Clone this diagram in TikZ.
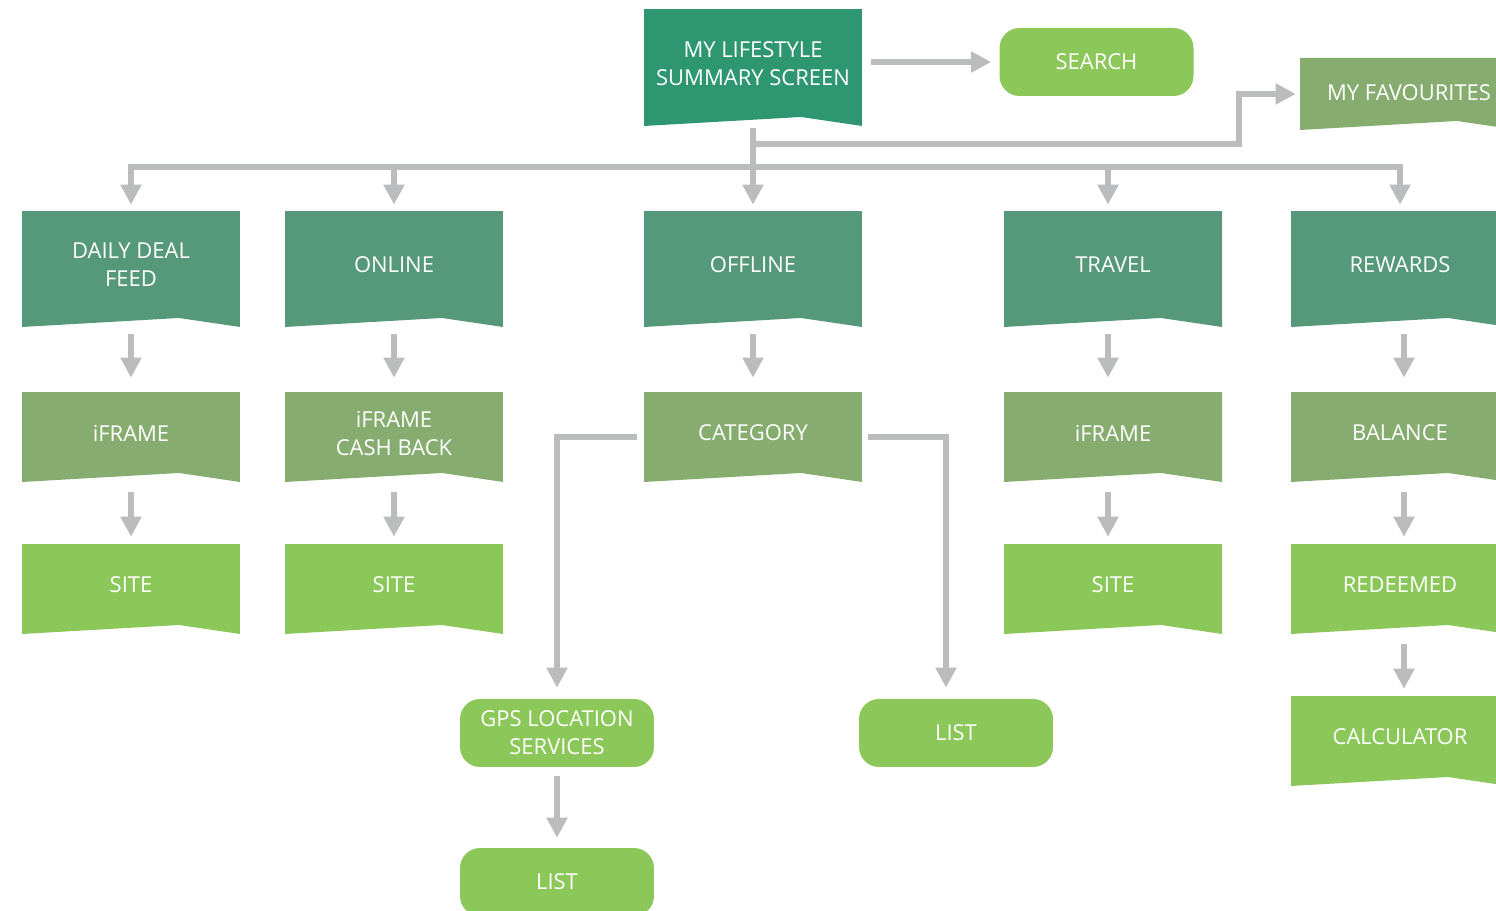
\documentclass[tikz,border=0pt]{standalone}
\usepackage{fontspec}
\setmainfont{Open Sans}
\usetikzlibrary{arrows.meta, calc}
\definecolor{cTop}{RGB}{46,150,112}
\definecolor{cMid}{RGB}{85,152,122}
\definecolor{cOlive}{RGB}{134,173,111}
\definecolor{cLight}{RGB}{140,199,90}
\definecolor{cArrow}{RGB}{187,188,190}
\tikzset{
  banner/.style={
    rectangle,
    text=white,
    align=center,
    text depth=0.16cm,
    minimum width=4.36cm,
    font=\fontsize{12.5pt}{15.9pt}\selectfont,
    path picture={
      \fill[#1] (path picture bounding box.north west)
        -- (path picture bounding box.north east)
        -- (path picture bounding box.south east)
        -- ($(path picture bounding box.south west)!0.72!(path picture bounding box.south east)+(0,0.18cm)$)
        -- (path picture bounding box.south west) -- cycle;
    }
  },
  pill/.style={
    rectangle,
    rounded corners=0.4cm,
    fill=cLight,
    text=white,
    align=center,
    minimum width=3.88cm,
    minimum height=1.36cm,
    font=\fontsize{12.5pt}{15.9pt}\selectfont
  },
  tall/.style={minimum height=2.32cm},
  short/.style={minimum height=1.8cm}
}
\tikzstyle{arrow} = [draw=cArrow, line width=0.13cm, -{Triangle[width=0.4cm, length=0.4cm]}]

\begin{document}
\begin{tikzpicture}[x=0.02cm, y=-0.02cm]
    \useasboundingbox (0,0) rectangle (1496,911);
    \clip (0,0) rectangle (1496,911);
    % top row
    \node[banner=cTop, minimum height=2.34cm] (title) at (753, 67.5) {MY LIFESTYLE\\SUMMARY SCREEN};
    \node[pill] (search) at (1096.5, 62) {SEARCH};
    \node[banner=cOlive, minimum height=1.44cm, text depth=0.04cm] (fav) at (1409, 94) {MY FAVOURITES};
    % sections
    \node[banner=cMid, tall] (daily) at (131, 269) {DAILY DEAL\\FEED};
    \node[banner=cMid, tall] (online) at (394, 269) {ONLINE};
    \node[banner=cMid, tall] (offline) at (753, 269) {OFFLINE};
    \node[banner=cMid, tall] (travel) at (1113, 269) {TRAVEL};
    \node[banner=cMid, tall] (rewards) at (1400, 269) {REWARDS};
    % second level
    \node[banner=cOlive, short] (iframeA) at (131, 437) {iFRAME};
    \node[banner=cOlive, short] (cashback) at (394, 437) {iFRAME\\CASH BACK};
    \node[banner=cOlive, short] (category) at (753, 437) {CATEGORY};
    \node[banner=cOlive, short] (iframeB) at (1113, 437) {iFRAME};
    \node[banner=cOlive, short] (balance) at (1400, 437) {BALANCE};
    % third level
    \node[banner=cLight, short] (siteA) at (131, 589) {SITE};
    \node[banner=cLight, short] (siteB) at (394, 589) {SITE};
    \node[banner=cLight, short] (siteC) at (1113, 589) {SITE};
    \node[banner=cLight, short] (redeemed) at (1400, 589) {REDEEMED};
    \node[banner=cLight, short] (calc) at (1400, 741) {CALCULATOR};
    \node[pill] (gps) at (557, 733) {GPS LOCATION\\SERVICES};
    \node[pill] (listR) at (956, 733) {LIST};
    \node[pill] (listB) at (557, 882) {LIST};

    \coordinate (bus) at (0, 167);
    \coordinate (fk) at (1239, 144);
    \draw[arrow, shorten <=0.04cm, shorten >=0.12cm] (title) -- (offline);
    \foreach \n in {daily, online, rewards}
        \draw[arrow, shorten >=0.12cm] (title.south |- bus) -| (\n);
    \draw[arrow, shorten >=0.12cm] (title.south |- bus) -| ([xshift=-0.1cm]travel.north);
    \draw[arrow, shorten >=0.08cm] (title.south |- fk) -- (fk) |- (fav.west);
    \draw[arrow, shorten <=0.18cm, shorten >=0.16cm] (title.east |- search.west) -- (search.west);
    \foreach \a/\b in {daily/iframeA, online/cashback, offline/category}
        \draw[arrow, shorten <=0.14cm, shorten >=0.28cm] (\a) -- (\b);
    \draw[arrow, shorten <=0.14cm, shorten >=0.28cm] ([xshift=-0.1cm]travel.south) -- ([xshift=-0.1cm]iframeB.north);
    \draw[arrow, shorten <=0.14cm, shorten >=0.28cm] ([xshift=0.08cm]rewards.south) -- ([xshift=0.08cm]balance.north);
    \foreach \a/\b in {iframeA/siteA, cashback/siteB}
        \draw[arrow, shorten <=0.2cm, shorten >=0.14cm] (\a) -- (\b);
    \draw[arrow, shorten <=0.2cm, shorten >=0.14cm] ([xshift=-0.1cm]iframeB.south) -- ([xshift=-0.1cm]siteC.north);
    \draw[arrow, shorten <=0.2cm, shorten >=0.14cm] ([xshift=0.08cm]balance.south) -- ([xshift=0.08cm]redeemed.north);
    \draw[arrow, shorten <=0.2cm, shorten >=0.14cm] ([xshift=0.08cm]redeemed.south) -- ([xshift=0.08cm]calc.north);
    \draw[arrow, shorten <=0.14cm, shorten >=0.22cm] (category.west) -| (gps);
    \draw[arrow, shorten <=0.12cm, shorten >=0.22cm] (category.east) -| ([xshift=-0.2cm]listR.north);
    \draw[arrow, shorten <=0.18cm, shorten >=0.2cm] (gps) -- (listB);
\end{tikzpicture}
\end{document}
